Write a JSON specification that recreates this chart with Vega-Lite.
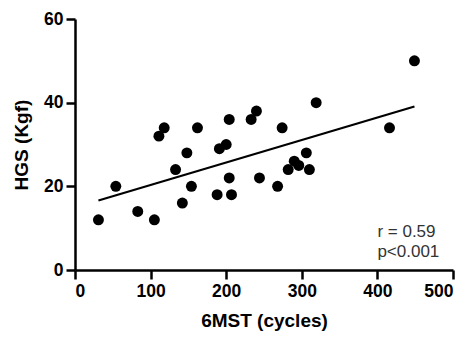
{
  "$schema": "https://vega.github.io/schema/vega-lite/v6.json",
  "autosize": {"type": "none"},
  "padding": {"left": 75, "top": 19, "right": 16, "bottom": 69},
  "width": 378,
  "height": 251,
  "background": "white",
  "config": {
    "view": {"stroke": null},
    "font": "Liberation Sans",
    "axis": {
      "grid": false,
      "domainColor": "black",
      "domainWidth": 2.5,
      "tickColor": "black",
      "tickWidth": 2.5,
      "tickSize": 9,
      "labelColor": "black",
      "labelFont": "Liberation Sans",
      "labelFontWeight": "bold",
      "labelFontSize": 17.5,
      "titleColor": "black",
      "titleFont": "Liberation Sans",
      "titleFontWeight": "bold",
      "titleFontSize": 19
    }
  },
  "datasets": {
    "pts": [
      {"cycles": 31, "hgs": 12}, {"cycles": 54, "hgs": 20}, {"cycles": 83, "hgs": 14},
      {"cycles": 105, "hgs": 12}, {"cycles": 111, "hgs": 32}, {"cycles": 118, "hgs": 34},
      {"cycles": 133, "hgs": 24}, {"cycles": 142, "hgs": 16}, {"cycles": 148, "hgs": 28},
      {"cycles": 154, "hgs": 20}, {"cycles": 162, "hgs": 34}, {"cycles": 188, "hgs": 18},
      {"cycles": 191, "hgs": 29}, {"cycles": 200, "hgs": 30}, {"cycles": 204, "hgs": 36},
      {"cycles": 204, "hgs": 22}, {"cycles": 207, "hgs": 18}, {"cycles": 233, "hgs": 36},
      {"cycles": 240, "hgs": 38}, {"cycles": 244, "hgs": 22}, {"cycles": 268, "hgs": 20},
      {"cycles": 274, "hgs": 34}, {"cycles": 282, "hgs": 24}, {"cycles": 290, "hgs": 26},
      {"cycles": 296, "hgs": 25}, {"cycles": 306, "hgs": 28}, {"cycles": 310, "hgs": 24},
      {"cycles": 319, "hgs": 40}, {"cycles": 416, "hgs": 34}, {"cycles": 449, "hgs": 50}
    ],
    "fit": [
      {"cycles": 31, "hgs": 16.6},
      {"cycles": 449, "hgs": 39.1}
    ],
    "notes": [
      {"cycles": 400, "hgs": 9.2, "label": "r = 0.59"},
      {"cycles": 400, "hgs": 4.4, "label": "p<0.001"}
    ]
  },
  "encoding": {
    "x": {
      "field": "cycles", "type": "quantitative",
      "scale": {"domain": [0, 500], "nice": false, "zero": false},
      "axis": {"values": [0, 100, 200, 300, 400, 500], "title": "6MST (cycles)", "labelPadding": 3, "titlePadding": 12}
    },
    "y": {
      "field": "hgs", "type": "quantitative",
      "scale": {"domain": [0, 60], "nice": false, "zero": false},
      "axis": {"values": [0, 20, 40, 60], "title": "HGS (Kgf)", "labelPadding": 3, "titlePadding": 12}
    }
  },
  "layer": [
    {
      "data": {"name": "fit"},
      "mark": {"type": "line", "color": "black", "strokeWidth": 2.2}
    },
    {
      "data": {"name": "pts"},
      "mark": {"type": "point", "filled": true, "color": "black", "opacity": 1, "size": 120}
    },
    {
      "data": {"name": "notes"},
      "mark": {"type": "text", "align": "left", "baseline": "middle", "fontSize": 17, "color": "#333333", "font": "Liberation Sans"},
      "encoding": {"text": {"field": "label"}}
    }
  ]
}
